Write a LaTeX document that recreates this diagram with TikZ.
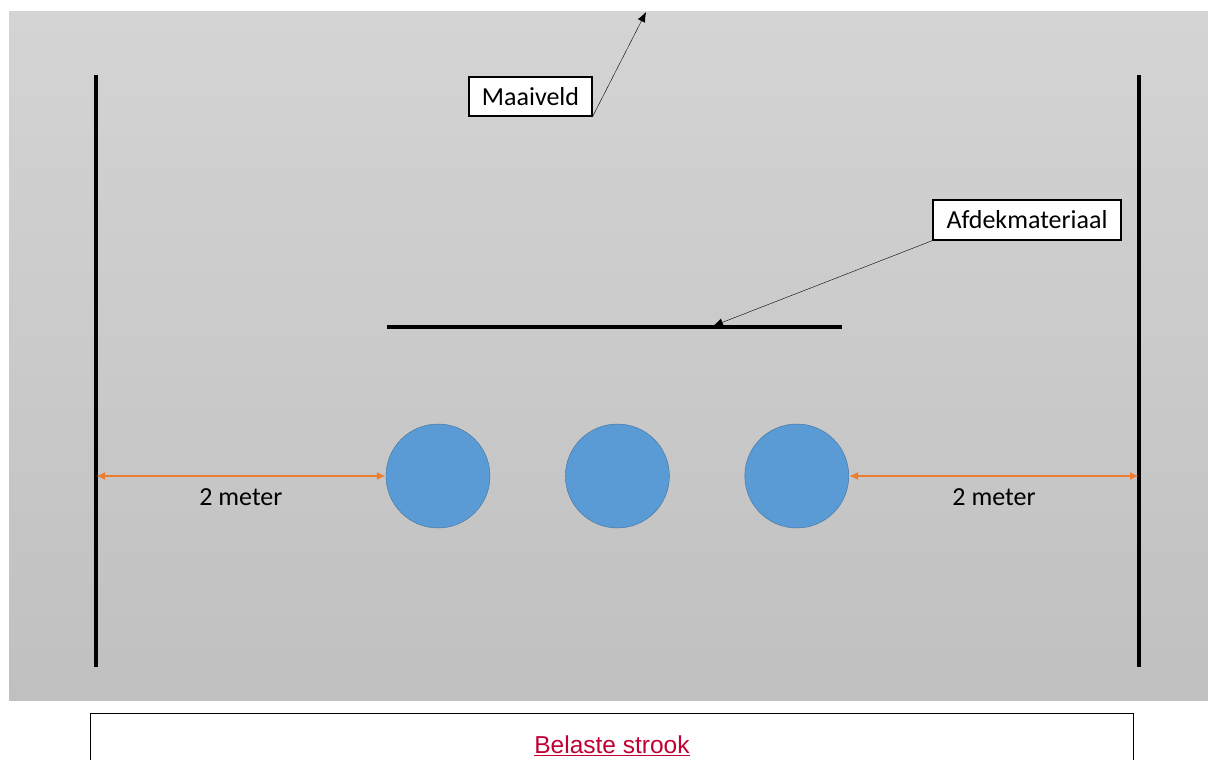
\documentclass[tikz,border=0pt]{standalone}
\usepackage{fontspec}
\setmainfont{Carlito}
\newfontfamily\arialfont{Liberation Sans}
\usepackage{tikz}
\usetikzlibrary{shapes,positioning,arrows.meta}
\definecolor{buisblauw}{RGB}{91,155,213}
\definecolor{buisrand}{RGB}{65,113,156}
\definecolor{maatoranje}{RGB}{237,125,49}
\definecolor{linkrood}{RGB}{192,0,50}
\definecolor{grondboven}{RGB}{212,212,212}
\definecolor{grondonder}{RGB}{192,192,192}

\begin{document}
\begin{tikzpicture}[x=1pt,y=-1pt,font=\fontsize{26}{30}\selectfont]
\useasboundingbox (0,0) rectangle (1208,760);
% Ground
\shade[top color=grondboven,bottom color=grondonder] (9,12) rectangle (1208,700);

% Walls
\coordinate (wl1) at (96,75);
\coordinate (wl2) at (96,667);
\coordinate (wr1) at (1139,75);
\coordinate (wr2) at (1139,667);
\draw[line width=4pt] (wl1) -- (wl2);
\draw[line width=4pt] (wr1) -- (wr2);

% Cover
\coordinate (afdek1) at (387,327);
\coordinate (afdek2) at (842,327);
\coordinate (afdekpunt) at (713,326);
\draw[line width=4pt] (afdek1) -- (afdek2);

% Pipes
\node[draw=buisrand,
    fill=buisblauw,
    circle,
    minimum size=104pt
    ] (buis1) at (438,476) {};

\node[draw=buisrand,
    fill=buisblauw,
    circle,
    minimum size=104pt,
    right=75pt of buis1
    ] (buis2) {};

\node[draw=buisrand,
    fill=buisblauw,
    circle,
    minimum size=104pt,
    right=75pt of buis2
    ] (buis3) {};

% Labels
\node[draw,
    fill=white,
    line width=1.2pt,
    minimum width=123pt,
    minimum height=39pt
    ] (maaiveld) at (530.5,96.5) {Maaiveld};

\node[draw,
    fill=white,
    line width=1.2pt,
    minimum width=188pt,
    minimum height=40pt
    ] (afdek) at (1027,220) {Afdekmateriaal};

\coordinate (maaipunt) at (646,12);

% Bottom box
\node[draw,
    line width=1pt,
    minimum width=1043pt,
    minimum height=64pt,
    anchor=north west,
    font=\arialfont\fontsize{24.5}{28}\selectfont,
    text=linkrood
    ] (strook) at (90,713) {\underline{Belaste strook}};

% Arrows
\draw[-{Latex[length=10pt,width=8pt]},thin] (maaiveld.south east) -- (maaipunt);
\draw[-{Latex[length=10pt,width=8pt]},thin] (afdek.south west) -- (afdekpunt);
\draw[{Latex[length=9pt,width=8pt]}-{Latex[length=9pt,width=8pt]},maatoranje,line width=2pt]
    (wl1 |- buis1.west) -- (buis1.west)
    node[midway,below=8pt,text=black]{2 meter};
\draw[{Latex[length=9pt,width=8pt]}-{Latex[length=9pt,width=8pt]},maatoranje,line width=2pt]
    (buis3.east) -- (wr1 |- buis3.east)
    node[midway,below=8pt,text=black]{2 meter};

\end{tikzpicture}
\end{document}
